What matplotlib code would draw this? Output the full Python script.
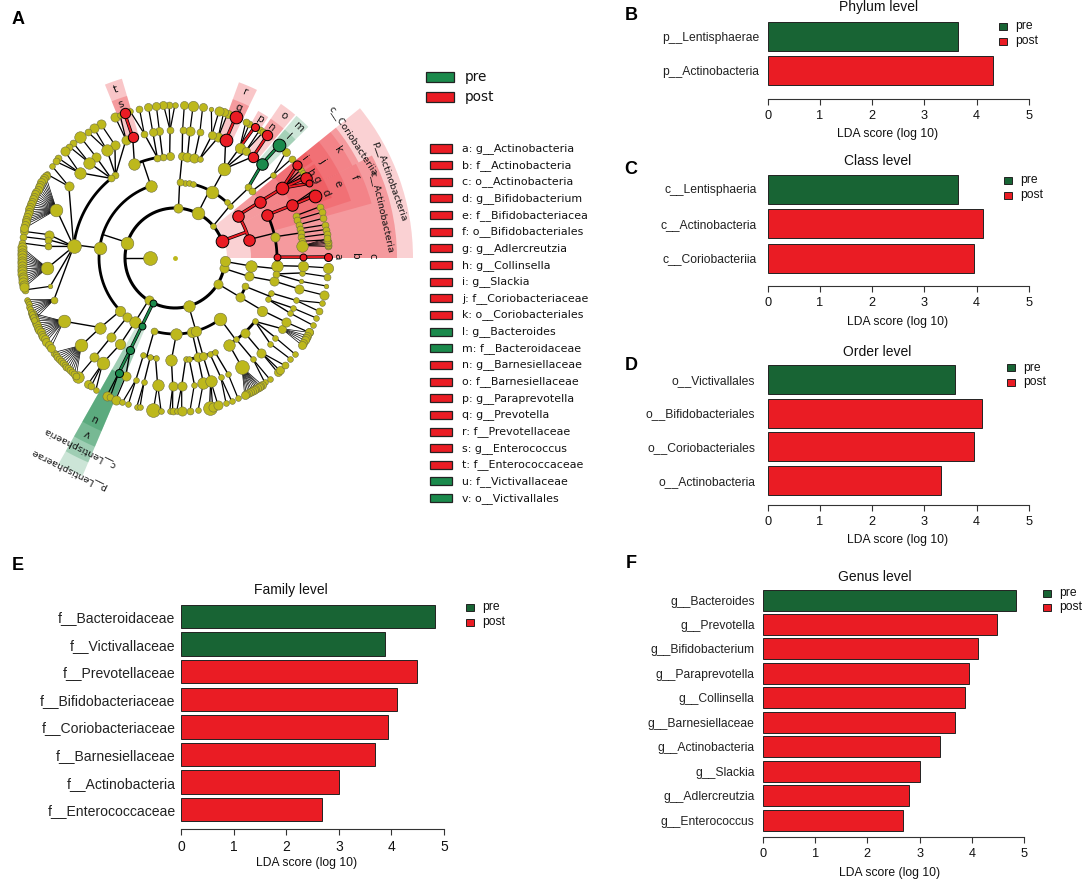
import numpy as np
import matplotlib
matplotlib.use('Agg')
import matplotlib.pyplot as plt
from matplotlib.patches import Wedge, Rectangle

W, H = 1084, 882
RED = '#EA1C24'; DKGREEN = '#186434'; GREEN = '#1B8A4C'; YEL = '#BDB81C'
ARIAL = 'Liberation Sans'

# ---------------- cladogram data: (parent angle, angle, diameter, state) ----------------
RING = [25, 50, 76, 102, 128, 153.5]
L1 = [(20,11,'r'),(40,5,'y'),(63,11,'y'),(86,8,'y'),(162,11,'y'),(238,8,'y'),(244,6,'g'),
      (286,10,'y'),(329,8,'y'),(348,8,'y'),(356,9,'y')]
L2 = [(20,14,10,'r'),(20,34,10,'r'),(40,43.6,5,'y'),(63,82.5,5,'y'),(63,79.5,5,'y'),(63,76,5,'y'),
      (63,61,11,'y'),(63,47,5,'y'),(86,86.5,6,'y'),(162,108.5,10,'y'),(162,172.5,11,'y'),(162,224,9,'y'),
      (162,231,8,'y'),(238,238,10,'y'),(244,244,6,'g'),(286,254,6,'y'),(286,271,10,'y'),(286,283,9,'y'),
      (286,286,9,'y'),(286,306.6,11,'y'),(329,329,8,'y'),(329,338,6,'y'),(348,346,8,'y'),(356,354,10,'y')]
L3 = [(14,0.5,6,'r'),(14,12,8,'y'),(14,25,10,'r'),(34,33.5,10,'r'),(43.6,44,6,'y'),(43.6,41,6,'y'),
      (61,61,11,'y'),(86.5,86,7,'y'),(86.5,83,8,'y'),(86.5,79,8,'y'),(86.5,76,5,'y'),
      (108.5,93,7,'y'),(108.5,97,6,'y'),(108.5,100,6,'y'),(108.5,113.4,10,'y'),
      (172.5,125.7,6,'y'),(172.5,128.7,6,'y'),(172.5,173.5,12,'y'),(224,223,10,'y'),(231,231,8,'y'),
      (238,237.6,9,'y'),(244,244,7,'g'),(254,252,5,'y'),(254,256,5,'y'),(254,259,5,'y'),(271,268,10,'y'),
      (283,276,5,'y'),(283,278,5,'y'),(283,283,8,'y'),(286,286,7,'y'),(286,290,5,'y'),(286,293,5,'y'),
      (306.6,302,10,'y'),(306.6,307,5,'y'),(306.6,313,8,'y'),(306.6,321.6,5,'y'),(329,329,9,'y'),
      (338,336,5,'y'),(338,340,5,'y'),(346,346.9,8,'y'),(354,355.7,10,'y'),(354,351,6,'y')]
L4 = [(0.5,0.4,6,'r'),(25,24.3,10,'r'),(33.5,33.1,11,'r'),
      (None,19.3,6,'y'),(None,17.5,6,'y'),(None,15.1,6,'y'),(None,13.2,6,'y'),(12,11.3,6,'y'),(None,9.3,6,'y'),(None,7.5,6,'y'),(None,5.5,10,'y'),
      (41,40.2,5,'y'),(44,47.2,10,'g'),(61,66.7,11,'r'),(61,59.6,9,'y'),(61,56.5,7,'y'),(61,52.4,9,'r'),
      (76,70.3,8,'y'),(76,73.3,7,'y'),(79,78.8,6,'y'),(83,83.3,8,'y'),(86,86.6,6,'y'),(93,92.2,6,'y'),(97,97,7,'y'),
      (100,100,7,'y'),(100,103.9,6,'y'),(113.4,109.3,9,'r'),(125.7,112.5,8,'y'),(125.7,118,8,'y'),(125.7,122.2,10,'y'),
      (128.7,128,8,'y'),(128.7,132,10,'y'),(128.7,138.2,10,'y'),(173.5,146,8,'y'),(173.5,157.8,11,'y'),
      (173.5,169.5,8,'y'),(173.5,171.8,6,'y'),(173.5,174.8,6,'y'),(173.5,184.5,11,'y'),(173.5,192.8,4,'y'),
      (173.5,199,6,'y'),(223,209.6,11,'y'),(223,223,11,'y'),(231,231,8,'y'),(237.6,235.5,11,'y'),
      (244,243.9,7,'g'),(244,247.4,8,'y'),(252,252.2,5,'y'),(256,256,5,'y'),(259,262.2,10,'y'),(268,269,8,'y'),
      (276,273,8,'y'),(278,278.7,5,'y'),(283,282.8,10,'y'),(286,286.2,10,'y'),(290,291,5,'y'),(293,294.6,5,'y'),
      (302,301.5,12,'y'),(307,307.6,5,'y'),(313,312.4,8,'y'),(321.6,318,5,'y'),(321.6,321.6,5,'y'),(321.6,326.5,7,'y'),
      (329,330,8,'y'),(336,334.4,5,'y'),(336,337,5,'y'),(340,340.7,5,'y'),(346.9,346,8,'y'),(351,349.5,4,'y'),
      (351,353.3,5,'y'),(355.7,356.3,9,'y')]
L5 = [(0.4,0.4,7,'r'),(24.3,24,11,'r'),(33.1,37.2,8,'r'),(33.1,31.6,10,'r'),(33.1,29.1,6,'r'),
      (33.1,35.1,5,'y'),(33.1,33.6,5,'y'),(33.1,32.4,5,'y'),(24.3,26,4,'y'),(24.3,25,4,'y'),
      (19.3,19.5,6,'y'),(17.5,17.3,6,'y'),(15.1,15,6,'y'),(13.2,12.5,6,'y'),(11.3,10.7,6,'y'),(9.3,9,6,'y'),(7.5,6.8,6,'y'),
      (40.2,40.4,6,'y'),(47.2,47.3,11,'g'),(40.2,43.7,7,'y'),(66.7,66.7,11,'r'),(59.6,58.7,7,'r'),(59.6,61,6,'y'),(59.6,62.5,6,'y'),
      (56.5,56.5,6,'y'),(56.5,55,6,'y'),(52.4,53,9,'r'),(70.3,70,7,'y'),(70.3,71.5,7,'y'),(73.3,73.3,8,'y'),(73.3,76.3,4,'y'),
      (78.8,79.6,7,'y'),(83.3,83.2,9,'y'),(86.6,86.5,7,'y'),(92.2,90,5,'y'),(92.2,92.2,6,'y'),(92.2,94.3,7,'y'),(97,97,7,'y'),
      (100,100,7,'y'),(103.9,103.4,6,'y'),(103.9,107,5,'y'),(109.3,109.2,9,'r'),(112.5,113,8,'y'),(112.5,111,5,'y'),
      (118,119,8,'y'),(122.2,122,8,'y'),(122.2,124.7,6,'y'),(128,128,10,'y'),(132,131.5,6,'y'),(132,133.5,6,'y'),
      (138.2,135.9,8,'y'),(138.2,139.4,6,'y'),(138.2,141,6,'y'),(146,143.2,5,'y'),(146,146.8,5,'y'),
      (169.5,170,7,'y'),(171.8,172,6,'y'),(174.8,174.4,6,'y'),(192.8,192,6,'y'),
      (231,230.8,10,'y'),(235.5,235.4,7,'y'),(235.5,236.8,6,'y'),(235.5,239,5,'y'),(243.9,243.7,8,'y'),(243.9,245,6,'y'),
      (247.4,247.3,8,'y'),(252.2,250,5,'y'),(252.2,252.3,5,'y'),(256,255.6,5,'y'),(256,256.8,5,'y'),(262.2,261.9,12,'y'),(262.2,264.8,5,'y'),
      (269,268,5,'y'),(269,269.1,6,'y'),(273,270.6,5,'y'),(273,272.5,8,'y'),(278.7,275.6,6,'y'),(282.8,278.7,5,'y'),
      (286.2,283,12,'y'),(286.2,284.2,8,'y'),(286.2,286.3,8,'y'),(291,289.4,5,'y'),(291,291.6,5,'y'),(294.6,294.2,5,'y'),
      (307.6,305.8,5,'y'),(307.6,308,5,'y'),(312.4,311.9,7,'y'),(312.4,313,7,'y'),(312.4,315.6,6,'y'),(318,318.8,5,'y'),(321.6,321.3,5,'y'),
      (330,331,7,'y'),(334.4,334,5,'y'),(337,337,5,'y'),(340.7,339.7,6,'y'),(340.7,343,5,'y'),(346,346,8,'y'),(349.5,349.5,4,'y'),
      (353.3,353,6,'y'),(356.3,356.3,9,'y')]
FANS = [(5.5,[4.3,4.9,5.5,6.1,6.7,7.3],6),
        (301.5,[304.4,303.6,303,302.3,301.6,300.8,300,299.3,298.5,297.7,297],7),
        (326.5,[331,329.6,328.6,327.6,326.5,325.5],7),
        (223,[218,219,220,221,222,223,224,225,226,227,228,229,230],6),
        (209.6,[201,202,203,204,205,206,207,208,209,210,211,212,213,214.7,216],7),
        (199,[195.7,196.5,197.5,198.5,199.5,200.5,201.5,202.5,203.7],5),
        (184.5,[176,177,178,179,180,181,182,183,184,185,186,187,188,189,190,191],8),
        (157.8,[147.5,148.5,149.5,150.5,151.5,152.5,153.5,154.5,155.5,156.5,157.5,158.5,159.5,160.5,161.5,162.5,163.5,164.5,165.5,166.5,167.5,168.9],7)]
L0 = (180, 12)
NODE_SCALE = 1.15

# sectors: (angle from, angle to, inner, outer, alpha, colour)
SECTORS = [(0,39,52,238,.20,'r'),(0,27.5,76,222,.30,'r'),(27.5,39,76,207,.30,'r'),
           (15.5,27.5,102,204,.18,'r'),(27.5,39,102,200,.18,'r'),(18,27.5,128,185,.18,'r'),(27.5,39,128,185,.18,'r'),
           (27,30.5,153,168,.2,'r'),(30.5,34,153,168,.2,'r'),(35,39,153,168,.2,'r'),(21,27,153,168,.2,'r'),
           (106.5,112,128,187,.25,'r'),(106.5,112,153,169,.25,'r'),
           (64,70,128,187,.25,'r'),(64,70,153,169,.25,'r'),(56.5,60.5,153,169,.25,'r'),
           (50,55.5,128,187,.22,'r'),(50,55.5,153,169,.22,'r'),
           (44.5,49.5,128,187,.22,'g'),(44.5,49.5,153,169,.22,'g'),
           (240.5,247,76,237,.22,'g'),(240.5,247,102,222,.25,'g'),(240.5,247,128,205,.3,'g'),(240.5,247,128,188,.3,'g')]
SECTOR_LETTERS = [('a',0.5,162),('b',0.5,180),('c',0.5,197),('d',23.6,164),('e',24.5,179),('f',24.2,197),
                  ('g',29,162),('h',32,160),('i',37.6,163),('j',33.6,177),('k',33.4,196),('l',46.9,166),('m',46.6,180),
                  ('n',53.4,162),('o',52.7,179),('p',58.4,163),('q',67,163),('r',67,180),('s',109.5,163),('t',109.5,179),
                  ('u',243.4,179),('v',243.5,196)]
CLADE_NAMES = [('p__Actinobacteria',19.6,228,-70.4),('c__Actinobacteria',12.7,212,-77.3),('c__Coriobacteriia',33.3,213,-56.7),
               ('c__Lentisphaeria',243.4,212,153.4),('p__Lentisphaerae',243.4,236,153.4)]

LEGEND_NAMES = ['a: g__Actinobacteria','b: f__Actinobacteria','c: o__Actinobacteria','d: g__Bifidobacterium',
                'e: f__Bifidobacteriacea','f: o__Bifidobacteriales','g: g__Adlercreutzia','h: g__Collinsella',
                'i: g__Slackia','j: f__Coriobacteriaceae','k: o__Coriobacteriales','l: g__Bacteroides',
                'm: f__Bacteroidaceae','n: g__Barnesiellaceae','o: f__Barnesiellaceae','p: g__Paraprevotella',
                'q: g__Prevotella','r: f__Prevotellaceae','s: g__Enterococcus','t: f__Enterococcaceae',
                'u: f__Victivallaceae','v: o__Victivallales']
LEGEND_GROUP = list('rrrrrrrrrrrggrrrrrrrgg')

# ---------------- bar data ----------------
B_LAB = ['p__Lentisphaerae','p__Actinobacteria']; B_VAL = [3.64,4.31]; B_GRP = ['pre','post']
C_LAB = ['c__Lentisphaeria','c__Actinobacteria','c__Coriobacteriia']; C_VAL = [3.65,4.12,3.94]; C_GRP = ['pre','post','post']
D_LAB = ['o__Victivallales','o__Bifidobacteriales','o__Coriobacteriales','o__Actinobacteria']
D_VAL = [3.58,4.10,3.94,3.31]; D_GRP = ['pre','post','post','post']
E_LAB = ['f__Bacteroidaceae','f__Victivallaceae','f__Prevotellaceae','f__Bifidobacteriaceae','f__Coriobacteriaceae',
         'f__Barnesiellaceae','f__Actinobacteria','f__Enterococcaceae']
E_VAL = [4.83,3.88,4.49,4.11,3.94,3.69,3.00,2.69]; E_GRP = ['pre','pre']+['post']*6
F_LAB = ['g__Bacteroides','g__Prevotella','g__Bifidobacterium','g__Paraprevotella','g__Collinsella','g__Barnesiellaceae',
         'g__Actinobacteria','g__Slackia','g__Adlercreutzia','g__Enterococcus']
F_VAL = [4.84,4.49,4.11,3.95,3.87,3.68,3.39,3.00,2.79,2.69]; F_GRP = ['pre']+['post']*9

# ---------------- figure ----------------
fig = plt.figure(figsize=(W/100, H/100), dpi=100, facecolor='white')
CX, CY = 175, 258
ax = fig.add_axes([0,0,1,1])
ax.set_xlim(-CX, W-CX); ax.set_ylim(-(H-CY), CY); ax.axis('off')

def pol(a, r):
    t = np.deg2rad(a)
    return r*np.cos(t), r*np.sin(t)

SC = {'r':RED,'g':GREEN,'y':YEL}
def size(d): return (d*0.72*NODE_SCALE)**2

for a0,a1,r0,r1,al,c in SECTORS:
    ax.add_patch(Wedge((0,0), r1, a0, a1, width=r1-r0, facecolor=SC[c], alpha=al, edgecolor='none', zorder=1))

def seg(a0,r0,a1,r1,state='y',lw=0.9):
    x0,y0 = pol(a0,r0); x1,y1 = pol(a1,r1)
    if state in 'rg':
        ax.plot([x0,x1],[y0,y1],color='k',lw=2.4,zorder=3,solid_capstyle='butt')
        ax.plot([x0,x1],[y0,y1],color=SC[state],lw=1.4,zorder=3.1,solid_capstyle='butt')
    else:
        ax.plot([x0,x1],[y0,y1],color='k',lw=lw,zorder=2.5,solid_capstyle='butt')

def arc(a0,a1,r,state='y',lw=2.0):
    t = np.deg2rad(np.linspace(a0,a1,max(int(abs(a1-a0)*2),2)))
    x,y = r*np.cos(t), r*np.sin(t)
    if state in 'rg':
        ax.plot(x,y,color='k',lw=2.4,zorder=3); ax.plot(x,y,color=SC[state],lw=1.4,zorder=3.1)
    else:
        ax.plot(x,y,color='k',lw=lw,zorder=2.5)

def node(a,r,d,state):
    x,y = pol(a,r)
    ec = 'k' if state in 'rg' else '#6f6f40'
    ax.scatter([x],[y],s=size(d),facecolor=SC[state],edgecolor=ec,linewidths=.7 if state in 'rg' else .4,zorder=5 if state in 'rg' else 4)

# level 0
node(L0[0],RING[0],L0[1],'y'); seg(L0[0],RING[0],L0[0],RING[1],'y',1)
ax.scatter([0],[0],s=size(3),color=YEL,zorder=4)
arc(L1[0][0],L1[-1][0],RING[1],lw=2.2)
for a,d,s in L1: node(a,RING[1],d,s)

def tree_level(parents, kids, ri):
    """kids hung from parents on ring ri through an arc at the child radius."""
    pstate = {p[-3]:p[-1] for p in parents}
    for pa in pstate:
        ch = [k for k in kids if k[0]==pa]
        if not ch: continue
        angs = [k[1] for k in ch]
        st = pstate[pa] if all(k[3]==pstate[pa] for k in ch) else 'y'
        anchor = min(max(pa,min(angs)),max(angs))
        seg(pa,RING[ri-1],anchor,RING[ri],st,1.0)
        if len(ch)>1: arc(min(angs),max(angs),RING[ri],st)
    for _,a,d,s in kids: node(a,RING[ri],d,s)

tree_level(L1,L2,2)
tree_level(L2,L3,3)
for pa,a,d,s in L4:
    if pa is not None:
        seg(pa,RING[3],a,RING[4],s if s=='r' and pa in (0.5,25,33.5) or s=='g' else 'y',1.0)
    node(a,RING[4],d,s)
for pa,a,d,s in L5:
    seg(pa,RING[4],a,RING[5],s if s in 'rg' else 'y',.9); node(a,RING[5],d,s)
for pa,angs,d in FANS:
    for a in angs:
        seg(pa,RING[4],a,RING[5],'y',.5); node(a,RING[5],d,'y')

for t,a,r in SECTOR_LETTERS:
    x,y = pol(a,r)
    ax.text(x,y,t,rotation=a-90,rotation_mode='anchor',ha='center',va='center',fontsize=7.5,color='#111111',zorder=6)
for t,a,r,rot in CLADE_NAMES:
    x,y = pol(a,r)
    ax.text(x,y,t,rotation=rot,rotation_mode='anchor',ha='center',va='center',fontsize=6.8,color='#111111',zorder=6)

# panel A legends (in figure pixels)
def pxrect(x,y,w,h,c,lw=.9):
    fig.add_artist(Rectangle((x/W,1-(y+h)/H),w/W,h/H,transform=fig.transFigure,facecolor=c,edgecolor='#222222',lw=lw))
def pxtext(x,y,s,**k):
    k.setdefault('family',ARIAL); k.setdefault('va','center'); k.setdefault('color','#111111')
    fig.text(x/W,1-y/H,s,**k)
pxrect(426,72,28,10,GREEN); pxrect(426,92,28,10,RED)
pxtext(465,77,'pre',fontsize=9.8,family='DejaVu Sans'); pxtext(465,97,'post',fontsize=9.8,family='DejaVu Sans')
for i,(n,g) in enumerate(zip(LEGEND_NAMES,LEGEND_GROUP)):
    y = 148.5+i*16.65
    pxrect(429.5,y-4,22.5,8,SC[g]); pxtext(462,y,n,fontsize=7.9,family='DejaVu Sans')

def panel(x0,x5,y_first,pitch,bar_h,axis_y,title,title_x,title_y,labs,vals,grps,leg,xlab_x,xlab_y,fs=9.2,lab_fs=8.75,pad=6):
    top = y_first-bar_h/2-6
    a = fig.add_axes([x0/W,1-axis_y/H,(x5-x0)/W,(axis_y-top)/H])
    a.set_xlim(0,5)
    # y axis in row units: row i is centred at i, measured downward
    a.set_ylim((axis_y-y_first)/pitch,(top-y_first)/pitch)
    cols = [DKGREEN if g=='pre' else RED for g in grps]
    a.barh(range(len(vals)),vals,height=bar_h/pitch,color=cols,edgecolor='#222222',lw=.7,zorder=2)
    for s in ('top','left','right'): a.spines[s].set_visible(False)
    a.spines['bottom'].set_linewidth(.8); a.spines['bottom'].set_color('#333333')
    a.set_xticks(range(6)); a.tick_params(axis='x',length=4.5,width=.8,color='#333333',labelsize=fs,pad=3.5,labelcolor='#111111')
    a.set_yticks(range(len(vals))); a.set_yticklabels(labs,fontsize=lab_fs,family=ARIAL,color='#222222')
    a.tick_params(axis='y',length=0,pad=pad)
    for t in a.get_xticklabels(): t.set_family(ARIAL)
    a.patch.set_alpha(0)
    pxtext(title_x,title_y,title,ha='center',fontsize=10)
    pxtext(xlab_x,xlab_y,'LDA score (log 10)',ha='center',fontsize=8.7)
    lx,ly0,ly1 = leg
    for yy,c,t in ((ly0,DKGREEN,'pre'),(ly1,RED,'post')):
        pxrect(lx,yy-3.5,8,7,c,lw=.7); pxtext(lx+16,yy,t,fontsize=8.7)

panel(767.7,1029,36,34.5,29,99,'Phylum level',879,7,B_LAB,B_VAL,B_GRP,(999,26,41),888,134,pad=6)
panel(767.7,1029,189,34.5,29,286,'Class level',878,161,C_LAB,C_VAL,C_GRP,(1004,180,195),898,322,pad=8)
panel(767.7,1029,379.3,33.7,29,505,'Order level',877,352,D_LAB,D_VAL,D_GRP,(1007,368,382),898,540,pad=9)
panel(181,444,616.5,27.6,23.5,829,'Family level',291,590,E_LAB,E_VAL,E_GRP,(466,607,622),307,863,fs=10,lab_fs=10.1,pad=4)
panel(763,1024,600,24.45,21,837,'Genus level',875,577,F_LAB,F_VAL,F_GRP,(1043,593,607),890,873,pad=6)

for t,x,y in (('A',18,20),('B',631,16),('C',631,170),('D',631,366),('E',18,565),('F',631,563)):
    pxtext(x,y,t,fontsize=13,fontweight='bold',ha='center',color='k')

fig.savefig('out.png',dpi=100)
